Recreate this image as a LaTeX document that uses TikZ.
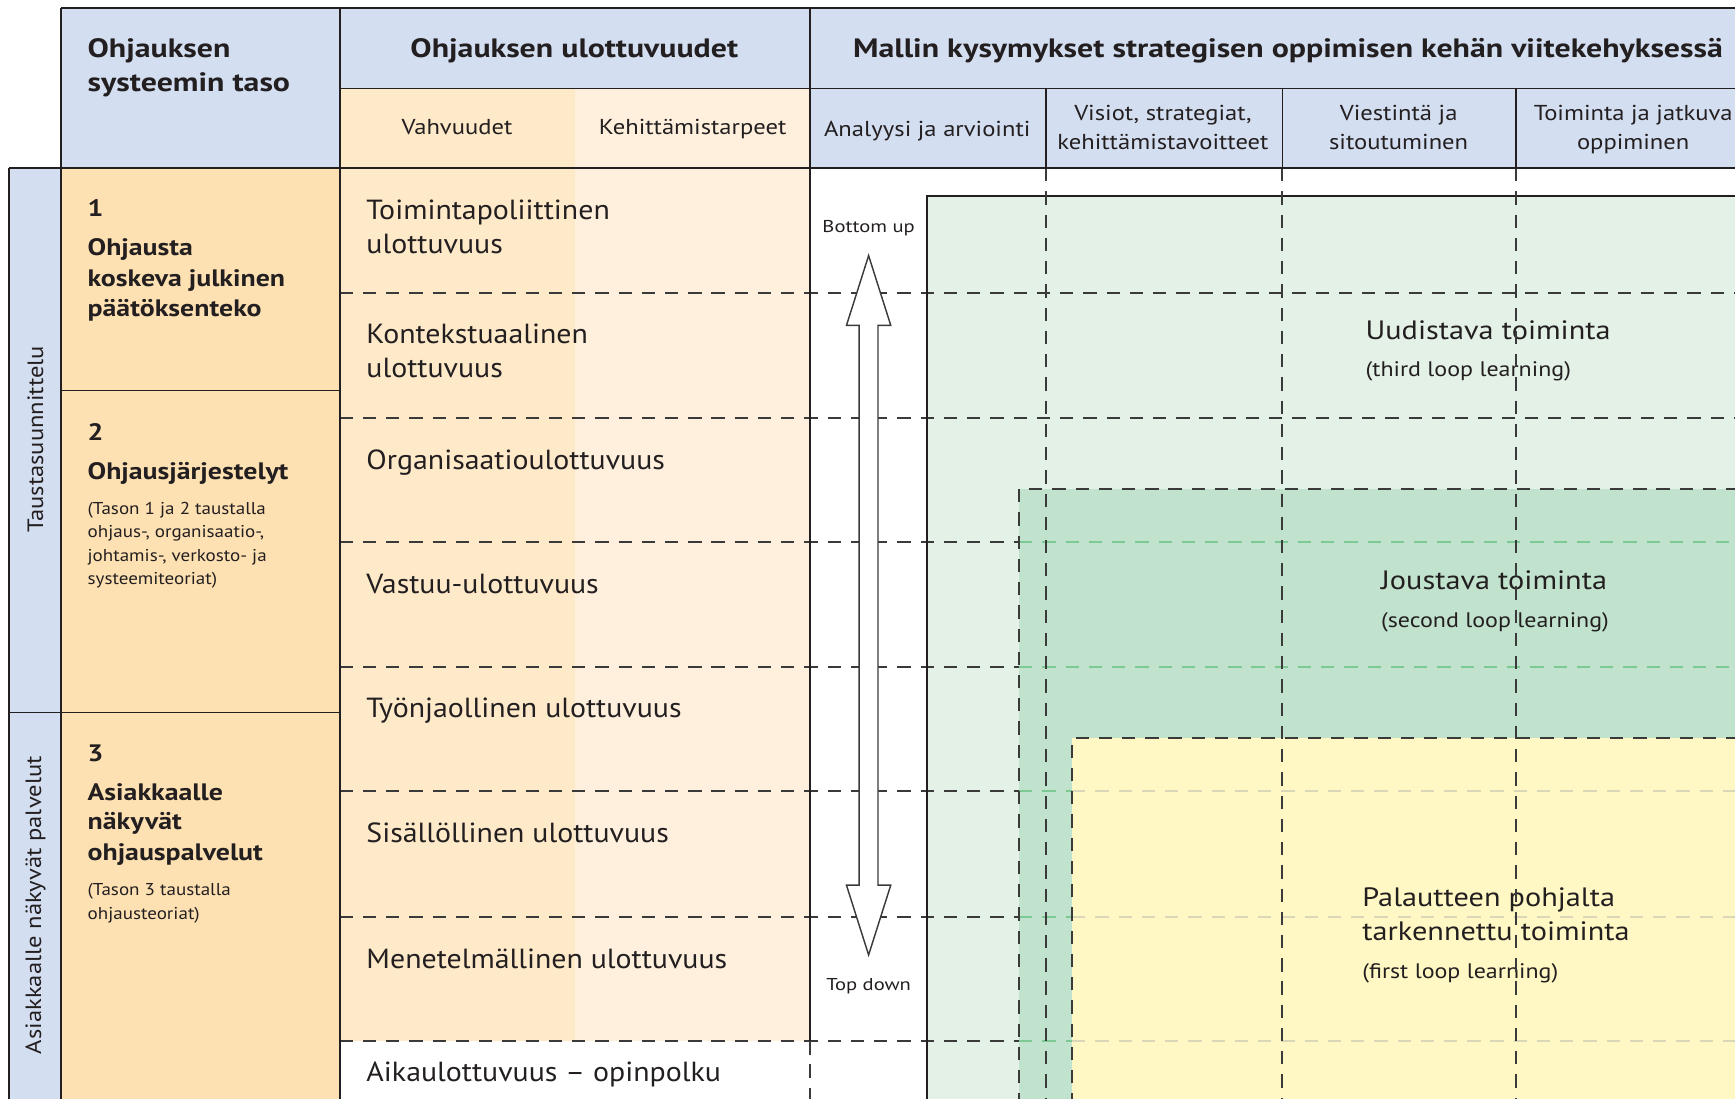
\documentclass[tikz,border=0pt]{standalone}
\usepackage{fontspec}
\setmainfont{PT Sans}
\newfontfamily\fwA[FakeStretch=1.20]{PT Sans}
\newfontfamily\fwL[FakeStretch=1.17]{PT Sans}
\newfontfamily\fwB[FakeStretch=1.14]{PT Sans}
\newfontfamily\fwC[FakeStretch=1.11]{PT Sans}
\newfontfamily\fwD[FakeStretch=1.08]{PT Sans}
\definecolor{ink}{HTML}{231F20}
\definecolor{hdrblue}{HTML}{D3DEF0}
\definecolor{lvlorange}{HTML}{FEE1B2}
\definecolor{vahv}{HTML}{FEE9C9}
\definecolor{keh}{HTML}{FEF0DD}
\definecolor{lgreen}{HTML}{E3F1E6}
\definecolor{mgreen}{HTML}{C1E2CC}
\definecolor{yell}{HTML}{FFF8C4}
\definecolor{dashdark}{HTML}{3A3A3A}
\definecolor{dashgreen}{HTML}{7CC993}
\definecolor{dashlight}{HTML}{DAD6B8}
\newcommand{\fsz}[2]{\fontsize{#1}{#2}\selectfont}
\begin{document}
\begin{tikzpicture}[x=1pt,y=-1pt,
  lbl/.style={inner sep=0pt, anchor=base west, text=ink},
  lblc/.style={inner sep=0pt, anchor=base, text=ink},
  hdrfont/.style={font=\fwA\fsz{24}{28}\bfseries},
  subfont/.style={font=\fwB\fsz{19.5}{24}},
  lvlfont/.style={font=\fwL\fsz{21.5}{26}\bfseries},
  smallfont/.style={font=\fwC\fsz{15.5}{20}},
  rowfont/.style={font=\fwD\fsz{25}{30}},
  grnfont/.style={font=\fwB\fsz{24}{28}},
  grnsub/.style={font=\fwB\fsz{19}{24}},
  stripfont/.style={font=\fwC\fsz{20}{24}},
  dirfont/.style={font=\fwA\fsz{15.5}{18}},
  solidln/.style={draw=ink, line width=1.6pt},
  darkdash/.style={draw=dashdark, line width=1.8pt, dash pattern=on 12pt off 9pt},
  greendash/.style={draw=dashgreen, line width=1.5pt, dash pattern=on 12pt off 9pt},
  lightdash/.style={draw=dashlight, line width=1.5pt, dash pattern=on 12pt off 9pt},
  hollowarrow/.style={draw=dashdark, line width=1.3pt, fill=white, line join=miter}]
\useasboundingbox (0,0) rectangle (1568,993);
\clip (0,0) rectangle (1568,993);

% ---------- fills ----------
\fill[hdrblue] (55,7) rectangle (1580,80);
\fill[hdrblue] (55,80) rectangle (307,152);
\fill[hdrblue] (732,80) rectangle (1580,152);
\fill[vahv] (307,80) rectangle (520,941);
\fill[keh] (520,80) rectangle (732,941);
\fill[lvlorange] (55,152) rectangle (307,1000);
\fill[hdrblue] (8,152) rectangle (55,1000);
\fill[lgreen] (838,177) rectangle (1580,1000);
\fill[mgreen] (921,442) rectangle (1580,1000);
\fill[yell] (969,667) rectangle (1580,1000);

% ---------- header texts ----------
\node[lbl,hdrfont] (h1a) at (79,52) {Ohjauksen};
\node[lbl,hdrfont] (h1b) at (79,83) {systeemin taso};
\node[lblc,hdrfont] (h2) at (519,52) {Ohjauksen ulottuvuudet};
\node[lblc,hdrfont] (h3) at (1164,52) {Mallin kysymykset strategisen oppimisen kehän viitekehyksessä};
\node[lblc,subfont] (s1) at (413,122) {Vahvuudet};
\node[lblc,subfont] (s2) at (626,122) {Kehittämistarpeet};
\node[lblc,subfont] (s3) at (838,123) {Analyysi ja arviointi};
\node[lblc,subfont] (s4a) at (1051,109) {Visiot, strategiat,};
\node[lblc,subfont] (s4b) at (1051,135) {kehittämistavoitteet};
\node[lblc,subfont] (s5a) at (1264,109) {Viestintä ja};
\node[lblc,subfont] (s5b) at (1264,135) {sitoutuminen};
\node[lblc,subfont] (s6a) at (1476,109) {Toiminta ja jatkuva};
\node[lblc,subfont] (s6b) at (1476,135) {oppiminen};

% ---------- side strip ----------
\node[inner sep=0pt, rotate=90, text=ink, stripfont] (strip1) at (32,397) {Taustasuunnittelu};
\node[inner sep=0pt, rotate=90, text=ink, stripfont] (strip2) at (32,818) {Asiakkaalle näkyvät palvelut};

% ---------- level boxes ----------
\node[lbl,lvlfont] (l1n) at (79,196) {1};
\node[lbl,lvlfont] (l1a) at (79,231) {Ohjausta};
\node[lbl,lvlfont] (l1b) at (79,259) {koskeva julkinen};
\node[lbl,lvlfont] (l1c) at (79,286) {päätöksenteko};
\node[lbl,lvlfont] (l2n) at (79,398) {2};
\node[lbl,lvlfont] (l2a) at (79,433) {Ohjausjärjestelyt};
\node[lbl,smallfont] (l2b) at (79,465) {(Tason 1 ja 2 taustalla};
\node[lbl,smallfont] (l2c) at (79,486) {ohjaus-, organisaatio-,};
\node[lbl,smallfont] (l2d) at (79,507) {johtamis-, verkosto- ja};
\node[lbl,smallfont] (l2e) at (79,528) {systeemiteoriat)};
\node[lbl,lvlfont] (l3n) at (79,688) {3};
\node[lbl,lvlfont] (l3a) at (79,723) {Asiakkaalle};
\node[lbl,lvlfont] (l3b) at (79,750) {näkyvät};
\node[lbl,lvlfont] (l3c) at (79,778) {ohjauspalvelut};
\node[lbl,smallfont] (l3d) at (79,809) {(Tason 3 taustalla};
\node[lbl,smallfont] (l3e) at (79,831) {ohjausteoriat)};

% ---------- dimension rows ----------
\node[lbl,rowfont] (r1a) at (331,198) {Toimintapoliittinen};
\node[lbl,rowfont] (r1b) at (331,229) {ulottuvuus};
\node[lbl,rowfont] (r2a) at (331,310) {Kontekstuaalinen};
\node[lbl,rowfont] (r2b) at (331,341) {ulottuvuus};
\node[lbl,rowfont] (r3) at (331,424) {Organisaatioulottuvuus};
\node[lbl,rowfont] (r4) at (331,536) {Vastuu-ulottuvuus};
\node[lbl,rowfont] (r5) at (331,648) {Työnjaollinen ulottuvuus};
\node[lbl,rowfont] (r6) at (331,761) {Sisällöllinen ulottuvuus};
\node[lbl,rowfont] (r7) at (331,875) {Menetelmällinen ulottuvuus};
\node[lbl,rowfont] (r8) at (331,977) {Aikaulottuvuus – opinpolku};

% ---------- learning loop texts ----------
\node[lbl,grnfont] (g1a) at (1234,307) {Uudistava toiminta};
\node[lbl,grnsub] (g1b) at (1234,340) {(third loop learning)};
\node[lbl,grnfont] (g2a) at (1248,533) {Joustava toiminta};
\node[lbl,grnsub] (g2b) at (1248,567) {(second loop learning)};
\node[lbl,grnfont] (g3a) at (1231,819) {Palautteen pohjalta};
\node[lbl,grnfont] (g3b) at (1231,850) {tarkennettu toiminta};
\node[lbl,grnsub] (g3c) at (1231,884) {(first loop learning)};

% ---------- horizontal row lines ----------
\foreach \yy in {265,378}{
  \draw[darkdash] (307,\yy) -- (1580,\yy);
}
\foreach \yy in {490,603}{
  \draw[darkdash] (307,\yy) -- (921,\yy);
  \draw[greendash] (921,\yy) -- (1580,\yy);
}
\foreach \yy in {715,829,941}{
  \draw[darkdash] (307,\yy) -- (921,\yy);
  \draw[greendash] (921,\yy) -- (969,\yy);
  \draw[lightdash] (969,\yy) -- (1580,\yy);
}

% ---------- learning region borders ----------
\draw[solidln] (838,1000) -- (838,177) -- (1580,177);
\draw[darkdash] (921,1000) -- (921,442) -- (1580,442);
\draw[darkdash] (969,1000) -- (969,667) -- (1580,667);

% ---------- column lines ----------
\foreach \xx in {945,1159,1370}{
  \draw[solidln] (\xx,80) -- (\xx,152);
  \draw[darkdash] (\xx,152) -- (\xx,1000);
}

% ---------- solid table lines ----------
\draw[solidln] (55,7) -- (1580,7);
\draw[solidln] (307,80) -- (1580,80);
\draw[solidln] (8,152) -- (1580,152);
\draw[solidln] (55,7) -- (55,1000);
\draw[solidln] (8,152) -- (8,1000);
\draw[solidln] (307,7) -- (307,1000);
\draw[solidln] (732,7) -- (732,941);
\draw[darkdash] (732,941) -- (732,1000);
\draw[solidln] (55,353) -- (307,353);
\draw[solidln] (8,644) -- (307,644);

% ---------- direction arrow ----------
\node[lblc, dirfont] (bu) at (785,210) {Bottom up};
\node[lblc, dirfont] (td) at (785,895) {Top down};
\draw[hollowarrow] (785,231) -- (805,294) -- (793.5,294) -- (793.5,800) -- (805,800)
  -- (785,863) -- (765,800) -- (776.5,800) -- (776.5,294) -- (765,294) -- cycle;
\end{tikzpicture}
\end{document}
